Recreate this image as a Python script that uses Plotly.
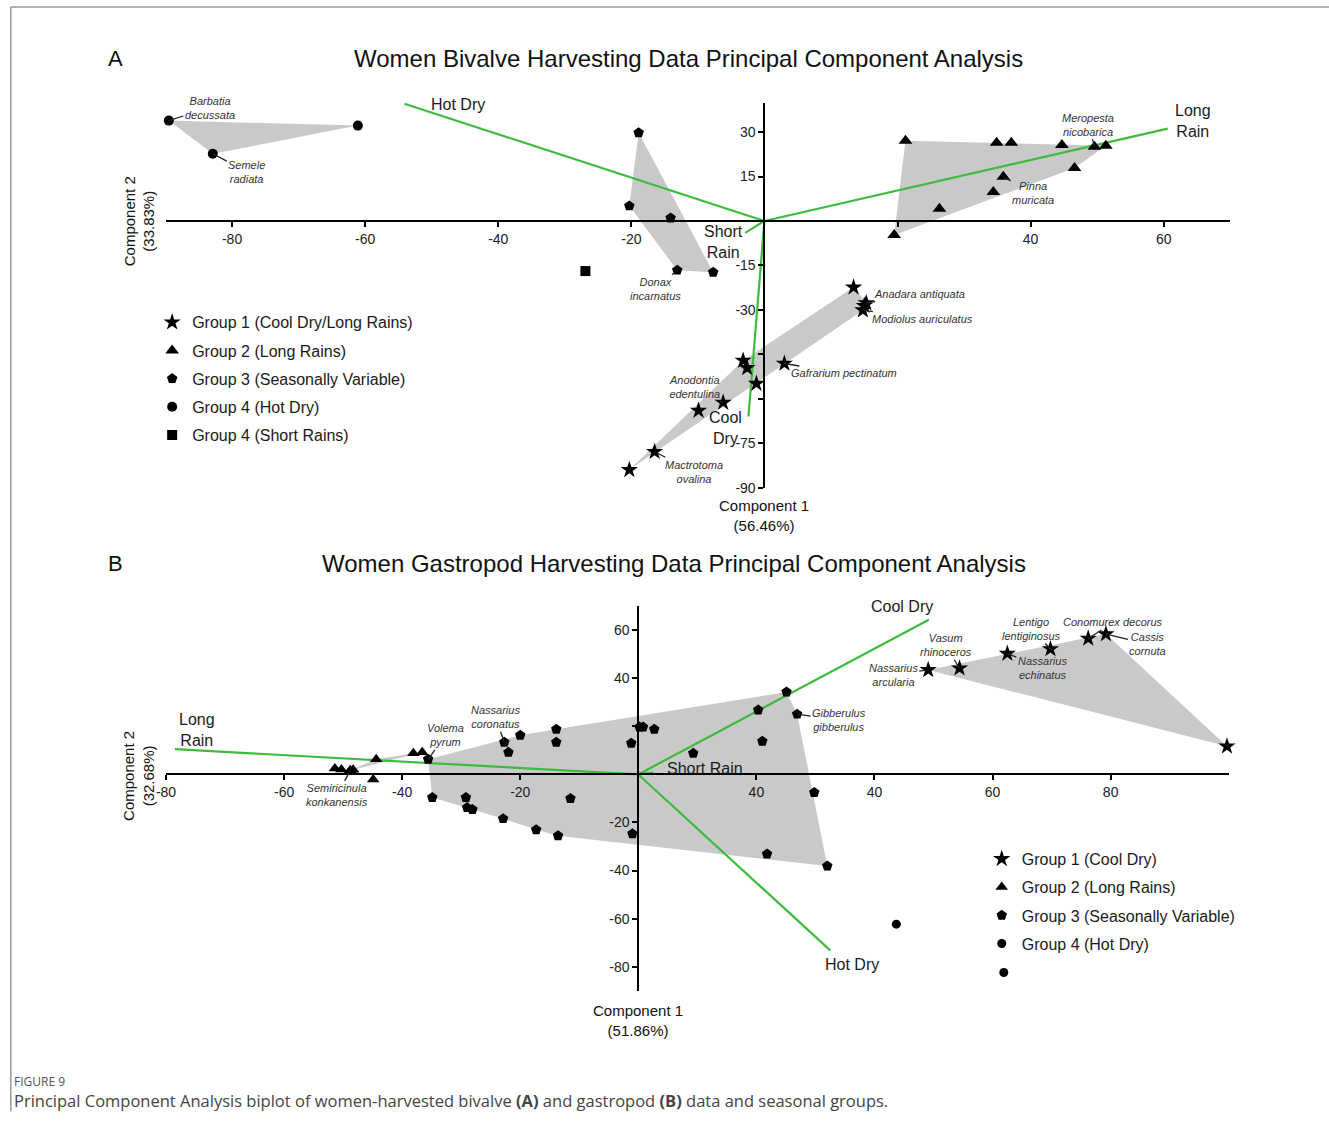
import plotly.graph_objects as go

# ---------------- Panel A (bivalves) data ----------------
A_g1_x = [13.4, 15.3, 15.0, 14.8, -3.2, -2.6, -1.2, 3.0, -6.2, -9.9, -16.5, -20.3]
A_g1_y = [-22.4, -27.7, -28.6, -30.1, -47.1, -49.6, -54.9, -48.1, -61.3, -64.0, -77.9, -84.0]
A_g1_names = ["", "Anadara antiquata", "", "Modiolus auriculatus", "", "", "",
              "Gafrarium pectinatum", "Anodontia<br>edentulina", "", "Mactrotoma<br>ovalina", ""]
A_g1_poly = [11, 4, 0, 1, 3]

A_g2_x = [21.2, 34.9, 37.1, 44.7, 49.6, 51.3, 46.6, 35.9, 34.4, 26.3, 19.5]
A_g2_y = [27.1, 26.4, 26.4, 25.7, 25.1, 25.4, 17.9, 14.9, 9.8, 4.1, -4.7]
A_g2_names = ["", "", "", "", "Meropesta<br>nicobarica", "", "", "Pinna<br>muricata", "", "", ""]
A_g2_poly = [0, 5, 6, 10]

A_g3_x = [-18.9, -20.3, -14.1, -13.1, -7.7]
A_g3_y = [29.8, 5.1, 1.0, -16.6, -17.3]
A_g3_names = ["", "", "", "Donax<br>incarnatus", ""]
A_g3_poly = [0, 4, 3, 1]

A_g4_x = [-89.5, -61.1, -82.9]
A_g4_y = [33.9, 32.2, 22.7]
A_g4_names = ["Barbatia<br>decussata", "", "Semele<br>radiata"]
A_g4_poly = [0, 1, 2]

A_g5_x = [-26.9]
A_g5_y = [-16.9]

A_load_names = ["Hot Dry", "Long<br>Rain", "Short<br>Rain", "Cool<br>Dry"]
A_load_x = [-54.1, 60.6, -2.9, -2.4]
A_load_y = [39.6, 31.2, -4.0, -66.0]

A_xticks = [-80, -60, -40, -20, 20, 40, 60]
A_xtext = ["-80", "-60", "-40", "-20", "", "40", "60"]
A_yticks = [30, 15, -15, -30, -45, -60, -75, -90]
A_ytext = ["30", "15", "-15", "-30", "", "", "-75", "-90"]

A_legend = ["Group 1 (Cool Dry/Long Rains)", "Group 2 (Long Rains)",
            "Group 3 (Seasonally Variable)", "Group 4 (Hot Dry)", "Group 4 (Short Rains)"]

# ---------------- Panel B (gastropods) data ----------------
B_g1_x = [49.1, 54.4, 62.5, 69.8, 76.2, 79.2, 99.7]
B_g1_y = [43.5, 44.2, 50.3, 52.2, 56.6, 58.4, 11.7]
B_g1_names = ["Nassarius<br>arcularia", "Vasum<br>rhinoceros", "Nassarius<br>echinatus",
              "Lentigo<br>lentiginosus", "Conomurex decorus", "Cassis<br>cornuta", ""]
B_g1_poly = [0, 5, 6]

B_g2_x = [-51.4, -50.3, -48.8, -48.3, -44.4, -44.9, -38.1, -36.6]
B_g2_y = [2.5, 2.1, 1.7, 2.0, 6.3, -2.1, 8.8, 9.2]
B_g2_names = ["", "", "Semiricinula<br>konkanensis", "", "", "", "", ""]
B_g2_poly = [2, 4, 6, 7, 3]

B_g3_x = [-35.6, -34.9, -29.2, -29.0, -28.1, -22.7, -22.0, -20.0, -22.9, -17.3,
          -13.9, -13.9, -13.6, -11.5, -1.2, -1.0, 0.2, 0.8, 2.7, 9.3,
          20.3, 21.0, 25.1, 26.9, 29.8, 21.8, 32.0]
B_g3_y = [6.3, -9.6, -9.6, -13.8, -14.6, 13.4, 9.2, 16.3, -18.4, -23.0,
          18.8, 13.4, -25.5, -10.0, 13.0, -24.7, 19.7, 19.7, 18.8, 8.8,
          26.8, 13.8, 34.3, 25.1, -7.5, -33.1, -38.1]
B_g3_names = ["Volema<br>pyrum", "", "", "", "", "Nassarius<br>coronatus", "", "", "", "",
              "", "", "", "", "", "", "", "", "", "",
              "", "", "", "Gibberulus<br>gibberulus", "", "", ""]
B_g3_poly = [0, 7, 10, 22, 23, 26, 12, 9, 8, 1]

B_g4_x = [43.7, 61.9]
B_g4_y = [-62.3, -82.4]

B_load_names = ["Long<br>Rain", "Cool Dry", "Hot Dry", "Short Rain"]
B_load_x = [-78.5, 49.2, 32.5, 2.5]
B_load_y = [10.5, 64.4, -73.2, 0.8]

B_xticks = [-80, -60, -40, -20, 20, 40, 60, 80]
B_xtext = ["-80", "-60", "-40", "-20", "40", "40", "60", "80"]
B_yticks = [60, 40, 20, -20, -40, -60, -80]
B_ytext = ["60", "40", "", "-20", "-40", "-60", "-80"]

B_legend = ["Group 1 (Cool Dry)", "Group 2 (Long Rains)",
            "Group 3 (Seasonally Variable)", "Group 4 (Hot Dry)"]

# ---------------- layout geometry ----------------
W, H = 1329, 1128
FONT = "Liberation Sans, Arial, sans-serif"
GREEN = "#3dbb3d"
FILL = "#c9c9c9"

# screen calibration (page pixel -> figure pixel)
OX, SX, SY = 10.1, 0.9918, 0.9917


def ix(x):
    return (x - OX) / SX


def iy(y):
    return y / SY


A_xr, A_yr = [-90, 70], [-90, 40]
A_px, A_py = (165.5, 1229.5), (102.4, 487.0)
B_xr, B_yr = [-80, 100], [-90, 70]
B_px, B_py = (166.0, 1228.0), (605.5, 989.5)


def dom_x(p):
    return [ix(p[0]) / W, min(ix(p[1]) / W, 1.0)]


def dom_y(p):
    return [1 - iy(p[1]) / H, 1 - iy(p[0]) / H]


def zero_pos(rng, dom):
    return dom[0] + (0 - rng[0]) / (rng[1] - rng[0]) * (dom[1] - dom[0])


fig = go.Figure()

label_off = {
    "Barbatia<br>decussata": (41, -13), "Semele<br>radiata": (34, 18),
    "Donax<br>incarnatus": (-22, 19), "Meropesta<br>nicobarica": (-6, -22),
    "Pinna<br>muricata": (30, 16), "Anadara antiquata": (53, -9),
    "Modiolus auriculatus": (60, 9), "Gafrarium pectinatum": (60, 10),
    "Anodontia<br>edentulina": (-29, -16), "Mactrotoma<br>ovalina": (39, 20),
    "Semiricinula<br>konkanensis": (-13, 25), "Volema<br>pyrum": (17, -24),
    "Nassarius<br>coronatus": (-9, -25), "Gibberulus<br>gibberulus": (42, 6),
    "Nassarius<br>arcularia": (-35, 5), "Vasum<br>rhinoceros": (-14, -23),
    "Lentigo<br>lentiginosus": (-19, -20), "Nassarius<br>echinatus": (35, 14),
    "Conomurex decorus": (25, -16), "Cassis<br>cornuta": (42, 10),
}
load_shift = {
    ("A", "Hot Dry"): (54, -1), ("A", "Long<br>Rain"): (25, 8),
    ("A", "Short<br>Rain"): (-22, -9), ("A", "Cool<br>Dry"): (-23, -11),
    ("B", "Long<br>Rain"): (22, 19), ("B", "Cool Dry"): (-27, 13),
    ("B", "Hot Dry"): (22, -14), ("B", "Short Rain"): (52, 4),
}

annotations = []


def add_poly(xs, ys, idx, xa, ya):
    px = [xs[i] for i in idx] + [xs[idx[0]]]
    py = [ys[i] for i in idx] + [ys[idx[0]]]
    fig.add_trace(go.Scatter(x=px, y=py, mode="lines", fill="toself", fillcolor=FILL,
                             line=dict(width=0, color=FILL), hoverinfo="skip",
                             showlegend=False, xaxis=xa, yaxis=ya))


def add_loadings(panel, names, lx, ly, xa, ya):
    for n, x, y in zip(names, lx, ly):
        fig.add_trace(go.Scatter(x=[0, x], y=[0, y], mode="lines",
                                 line=dict(color=GREEN, width=2.2), hoverinfo="skip",
                                 showlegend=False, xaxis=xa, yaxis=ya))
        sx, sy = load_shift[(panel, n)]
        annotations.append(dict(x=x, y=y, xref=xa, yref=ya, text=n, showarrow=False,
                                xshift=sx, yshift=sy, align="center",
                                xanchor="center", yanchor="middle",
                                font=dict(family=FONT, size=16, color="#1a1a1a")))


def add_points(xs, ys, names, symbol, size, lname, legend, xa, ya):
    fig.add_trace(go.Scatter(x=xs, y=ys, mode="markers", name=lname,
                             marker=dict(symbol=symbol, size=size, color="black",
                                         line=dict(width=0)),
                             cliponaxis=False,
                             showlegend=lname is not None, legend=legend,
                             legendgroup=lname, xaxis=xa, yaxis=ya))
    if names:
        for x, y, n in zip(xs, ys, names):
            if n:
                ax, ay = label_off[n]
                annotations.append(dict(x=x, y=y, xref=xa, yref=ya, text="<i>" + n + "</i>",
                                        showarrow=True, arrowhead=0, arrowwidth=1.3,
                                        arrowcolor="#222", ax=ax, ay=ay, standoff=0,
                                        align="center",
                                        font=dict(family=FONT, size=11, color="#333")))


# Panel A
add_poly(A_g4_x, A_g4_y, A_g4_poly, "x", "y")
add_poly(A_g3_x, A_g3_y, A_g3_poly, "x", "y")
add_poly(A_g2_x, A_g2_y, A_g2_poly, "x", "y")
add_poly(A_g1_x, A_g1_y, A_g1_poly, "x", "y")
add_loadings("A", A_load_names, A_load_x, A_load_y, "x", "y")
add_points(A_g1_x, A_g1_y, A_g1_names, "star", 13, A_legend[0], "legend", "x", "y")
add_points(A_g2_x, A_g2_y, A_g2_names, "triangle-up", 12, A_legend[1], "legend", "x", "y")
add_points(A_g3_x, A_g3_y, A_g3_names, "pentagon", 11, A_legend[2], "legend", "x", "y")
add_points(A_g4_x, A_g4_y, A_g4_names, "circle", 10, A_legend[3], "legend", "x", "y")
add_points(A_g5_x, A_g5_y, None, "square", 10, A_legend[4], "legend", "x", "y")

# Panel B
add_poly(B_g3_x, B_g3_y, B_g3_poly, "x2", "y2")
add_poly(B_g2_x, B_g2_y, B_g2_poly, "x2", "y2")
add_poly(B_g1_x, B_g1_y, B_g1_poly, "x2", "y2")
add_loadings("B", B_load_names, B_load_x, B_load_y, "x2", "y2")
add_points(B_g1_x, B_g1_y, B_g1_names, "star", 13, B_legend[0], "legend2", "x2", "y2")
add_points(B_g2_x, B_g2_y, B_g2_names, "triangle-up", 11, B_legend[1], "legend2", "x2", "y2")
add_points(B_g3_x, B_g3_y, B_g3_names, "pentagon", 11, B_legend[2], "legend2", "x2", "y2")
add_points(B_g4_x, B_g4_y, None, "circle", 9, B_legend[3], "legend2", "x2", "y2")

# axes
A_dx, A_dy = dom_x(A_px), dom_y(A_py)
B_dx, B_dy = dom_x(B_px), dom_y(B_py)
tickfont = dict(family=FONT, size=14, color="#222")
common = dict(showgrid=False, zeroline=False, showline=True, linecolor="black",
              linewidth=2, ticks="outside", ticklen=5, tickwidth=1.5, tickcolor="black",
              tickfont=tickfont, tickmode="array", anchor="free", layer="above traces")

legfont = dict(family=FONT, size=16, color="#1a1a1a")
fig.update_layout(
    width=W, height=H, margin=dict(l=0, r=0, t=0, b=0),
    paper_bgcolor="white", plot_bgcolor="rgba(0,0,0,0)",
    xaxis=dict(domain=A_dx, range=A_xr, position=zero_pos(A_yr, A_dy),
               tickvals=A_xticks, ticktext=A_xtext, **common),
    yaxis=dict(domain=A_dy, range=A_yr, position=zero_pos(A_xr, A_dx),
               tickvals=A_yticks, ticktext=A_ytext, **common),
    xaxis2=dict(domain=B_dx, range=B_xr, position=zero_pos(B_yr, B_dy),
                tickvals=B_xticks, ticktext=B_xtext, **common),
    yaxis2=dict(domain=B_dy, range=B_yr, position=zero_pos(B_xr, B_dx),
                tickvals=B_yticks, ticktext=B_ytext, **common),
    legend=dict(x=(ix(172) - 20) / W, y=1 - (iy(322) - 17.2) / H, xanchor="left", yanchor="top",
                font=legfont, tracegroupgap=4.4, bgcolor="rgba(0,0,0,0)", itemclick=False),
    legend2=dict(x=(ix(1001) - 20) / W, y=1 - (iy(858) - 17.2) / H, xanchor="left",
                 yanchor="top", font=legfont, tracegroupgap=4.4,
                 bgcolor="rgba(0,0,0,0)", itemclick=False),
    showlegend=True,
)


def paper_text(x, y, text, size, color="#111", **kw):
    d = dict(x=ix(x) / W, y=1 - iy(y) / H, xref="paper", yref="paper", text=text,
             showarrow=False, xanchor="center", yanchor="middle",
             font=dict(family=kw.pop("family", FONT), size=size, color=color))
    d.update(kw)
    annotations.append(d)


paper_text(116, 58, "A", 22)
paper_text(688, 58, "Women Bivalve Harvesting Data Principal Component Analysis", 24)
paper_text(116, 563, "B", 22)
paper_text(674, 563, "Women Gastropod Harvesting Data Principal Component Analysis", 24)
paper_text(139, 221, "Component 2<br>(33.83%)", 15, textangle=-90)
paper_text(764, 515, "Component 1<br>(56.46%)", 15)
paper_text(139, 775, "Component 2<br>(32.68%)", 15, textangle=-90)
paper_text(638, 1019, "Component 1<br>(51.86%)", 15)
paper_text(12, 1080, "FIGURE 9", 12, color="#555", xanchor="left", family="Open Sans")
paper_text(12, 1099, "Principal Component Analysis biplot of women-harvested bivalve <b>(A)</b> "
           "and gastropod <b>(B)</b> data and seasonal groups.", 16.5, color="#444",
           xanchor="left", family="Open Sans")

bx = max(ix(8), 0.8) / W
fig.update_layout(
    annotations=annotations,
    shapes=[
        dict(type="line", xref="paper", yref="paper", x0=bx, x1=1,
             y0=1 - iy(7) / H, y1=1 - iy(7) / H, line=dict(color="#999", width=1.5)),
        dict(type="line", xref="paper", yref="paper", x0=bx, x1=bx, y0=1 - iy(7) / H,
             y1=1 - iy(1110) / H, line=dict(color="#999", width=1.5)),
    ],
)

fig.write_html("out.html")
